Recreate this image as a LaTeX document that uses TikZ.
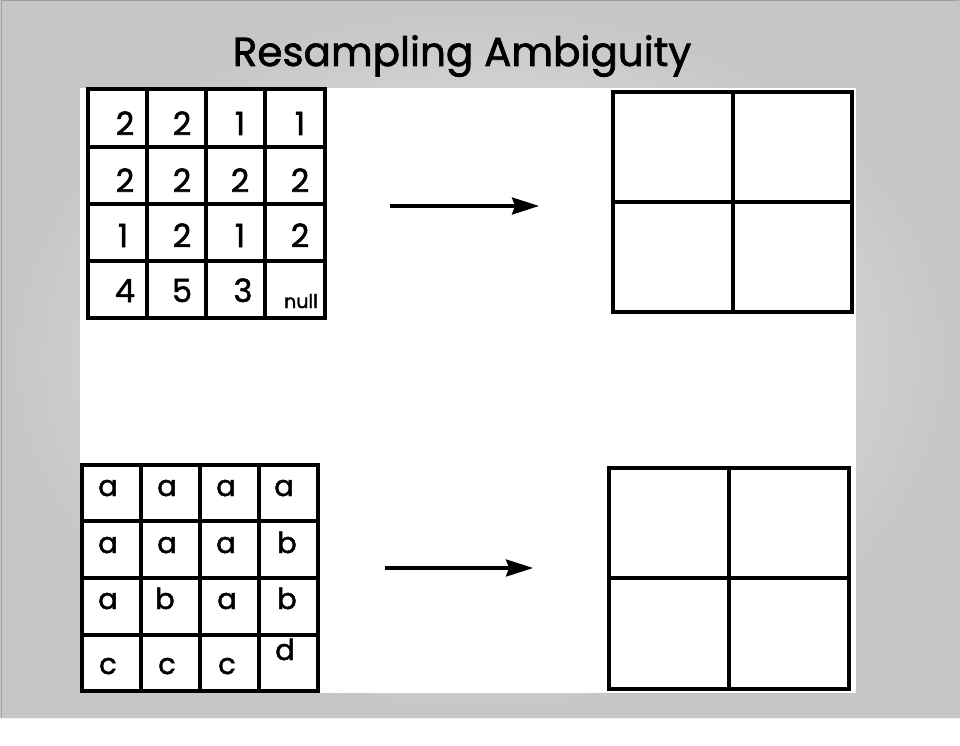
\documentclass[tikz,border=0pt]{standalone}
\usepackage{fontspec}
\setmainfont{Poppins}[FakeBold=1.2,AutoFakeBold=1.2]
\newfontfamily\boldish{Poppins}[FakeBold=1.6]
\usetikzlibrary{arrows.meta}
\begin{document}
\begin{tikzpicture}[x=1pt,y=-1pt,
  gridline/.style={line width=3.4pt,line cap=rect},
  digit/.style={anchor=base,inner sep=0pt,font=\boldish\fontsize{32}{32}\selectfont},
  letter/.style={anchor=base,inner sep=0pt,font=\boldish\fontsize{29}{29}\selectfont},
  small/.style={anchor=base,inner sep=0pt,font=\boldish\fontsize{19}{19}\selectfont},
  maparrow/.style={line width=3.2pt,-{Stealth[length=27pt,width=17pt,inset=3pt]}}]
\useasboundingbox (0,0) rectangle (960,746);
% background
\fill[white] (0,0) rectangle (960,746);
\shade[inner color=gray!10,outer color=gray!45,shading=radial] (0,0) rectangle (960,718);
\draw[gray!75,line width=1pt] (1,718) -- (1,1) -- (959,1);
\draw[gray!10,line width=1.5pt] (0,718.5) -- (960,718.5);
% title
\node[anchor=base,inner sep=0pt,font=\boldish\fontsize{40.5}{40.5}\selectfont] (title) at (462,66) {Resampling Ambiguity};
% white panel
\fill[white] (80,88) rectangle (856,693);
% top-left grid
\draw[gridline] (88,89) rectangle (325,318);
\foreach \x in {147,206,265} \draw[gridline] (\x,89) -- (\x,318);
\foreach \y in {147,204,261} \draw[gridline] (88,\y) -- (325,\y);
\node[digit] (t11) at (125,135) {2};
\node[digit] (t12) at (182,135) {2};
\node[digit] (t13) at (240,135) {1};
\node[digit] (t14) at (300,135) {1};
\node[digit] (t21) at (125,192) {2};
\node[digit] (t22) at (182,192) {2};
\node[digit] (t23) at (240,192) {2};
\node[digit] (t24) at (300,192) {2};
\node[digit] (t31) at (123,247) {1};
\node[digit] (t32) at (182,247) {2};
\node[digit] (t33) at (240,247) {1};
\node[digit] (t34) at (300,247) {2};
\node[digit] (t41) at (125,302) {4};
\node[digit] (t42) at (182,302) {5};
\node[digit] (t43) at (243,302) {3};
\node[small] (t44) at (301,308) {null};
% top-right grid
\draw[gridline] (613,92) rectangle (852,312);
\draw[gridline] (733,92) -- (733,312);
\draw[gridline] (613,202) -- (852,202);
% top arrow
\coordinate (a1s) at (390,206);
\coordinate (a1e) at (539,206);
\draw[maparrow] (a1s) -- (a1e);
% bottom-left grid
\draw[gridline] (82,465) rectangle (318,691);
\foreach \x in {141,200,259} \draw[gridline] (\x,465) -- (\x,691);
\foreach \y in {521,578,635} \draw[gridline] (82,\y) -- (318,\y);
\node[letter] (b11) at (108,496) {a};
\node[letter] (b12) at (167,496) {a};
\node[letter] (b13) at (226,496) {a};
\node[letter] (b14) at (284,496) {a};
\node[letter] (b21) at (108,553) {a};
\node[letter] (b22) at (167,553) {a};
\node[letter] (b23) at (226,553) {a};
\node[letter] (b24) at (287,553) {b};
\node[letter] (b31) at (108,609) {a};
\node[letter] (b32) at (165,609) {b};
\node[letter] (b33) at (227,609) {a};
\node[letter] (b34) at (287,609) {b};
\node[letter] (b41) at (108,674) {c};
\node[letter] (b42) at (167,674) {c};
\node[letter] (b43) at (227,674) {c};
\node[letter] (b44) at (285,660) {d};
% bottom-right grid
\draw[gridline] (609,468) rectangle (849,689);
\draw[gridline] (729,468) -- (729,689);
\draw[gridline] (609,578) -- (849,578);
% bottom arrow
\coordinate (a2s) at (385,568);
\coordinate (a2e) at (533,568);
\draw[maparrow] (a2s) -- (a2e);
\end{tikzpicture}
\end{document}
